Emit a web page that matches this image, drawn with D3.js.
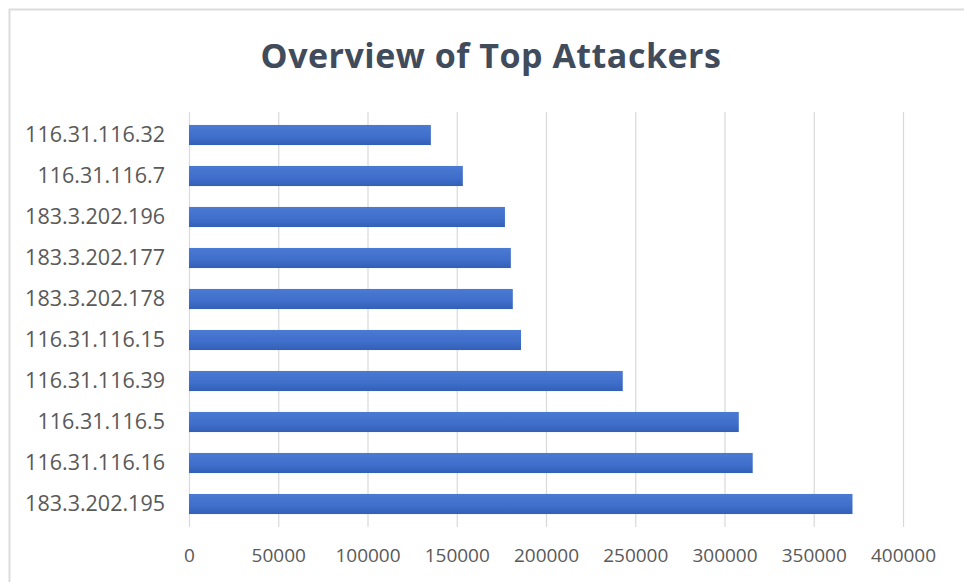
<!DOCTYPE html>
<html>
<head>
<meta charset="utf-8">
<script src="https://cdn.jsdelivr.net/npm/d3@7"></script>
<style>
  body { margin: 0; background: #fff; }
  svg text { font-family: "Open Sans", "DejaVu Sans", sans-serif; }
</style>
</head>
<body>
<div id="chart"></div>
<script>
// attackers, top of the chart first
const attackers = [
  "116.31.116.32", "116.31.116.7", "183.3.202.196", "183.3.202.177", "183.3.202.178",
  "116.31.116.15", "116.31.116.39", "116.31.116.5", "116.31.116.16", "183.3.202.195"
]
const attackCounts = [135500, 153400, 177000, 180300, 181400, 186000, 243000, 308000, 315800, 371700]
const xTicks = [0, 50000, 100000, 150000, 200000, 250000, 300000, 350000, 400000]
const chartTitle = "Overview of Top Attackers"

const width = 964, height = 582
const data = attackers.map((a, i) => ({ label: a, value: attackCounts[i] }))

const svg = d3.select("#chart").append("svg")
  .attr("width", width)
  .attr("height", height)

// bar gradient
const grad = svg.append("defs").append("linearGradient")
  .attr("id", "barGrad").attr("x1", 0).attr("y1", 0).attr("x2", 0).attr("y2", 1)
grad.append("stop").attr("offset", "0%").attr("stop-color", "#4a7ad2")
grad.append("stop").attr("offset", "60%").attr("stop-color", "#3f6ecb")
grad.append("stop").attr("offset", "100%").attr("stop-color", "#3260b6")

// outer frame (top + left edges only are visible)
svg.append("path")
  .attr("d", `M9.5,${height} V9.5 H${width}`)
  .attr("fill", "none")
  .attr("stroke", "#dcdcdc")
  .attr("stroke-width", 2)

const x = d3.scaleLinear().domain([0, 400000]).range([189, 903])
const y = d3.scaleBand().domain(attackers).range([114.5, 524.5])
  .paddingInner(0.51).paddingOuter(0.255)

// gridlines
svg.append("g")
  .attr("transform", "translate(0,527)")
  .call(d3.axisBottom(x).tickValues(xTicks).tickSize(-415).tickFormat(""))
  .call(g => g.select(".domain").remove())
  .call(g => g.selectAll("line").attr("stroke", "#d9d9d9").attr("stroke-width", 1.2))

// bars
svg.append("g").selectAll("rect")
  .data(data)
  .join("rect")
  .attr("x", x(0))
  .attr("y", d => y(d.label))
  .attr("width", d => x(d.value) - x(0))
  .attr("height", y.bandwidth())
  .attr("fill", "url(#barGrad)")

// x tick labels
svg.append("g")
  .attr("transform", "translate(0,527)")
  .call(d3.axisBottom(x).tickValues(xTicks).tickSize(0).tickPadding(22).tickFormat(d3.format("d")))
  .call(g => g.select(".domain").remove())
  .call(g => g.selectAll("text")
    .attr("fill", "#595959")
    .style("font-size", "19px"))

// category labels
svg.append("g")
  .attr("transform", "translate(168,0)")
  .call(d3.axisLeft(y).tickSize(0).tickPadding(3))
  .call(g => g.select(".domain").remove())
  .call(g => g.selectAll("text")
    .attr("fill", "#595959")
    .style("font-size", "21.5px"))

// title
svg.append("text")
  .attr("x", 491)
  .attr("y", 68)
  .attr("text-anchor", "middle")
  .attr("fill", "#404b5c")
  .style("font-size", "34px")
  .style("letter-spacing", "0.5px")
  .style("font-weight", "bold")
  .text(chartTitle)
</script>
</body>
</html>
